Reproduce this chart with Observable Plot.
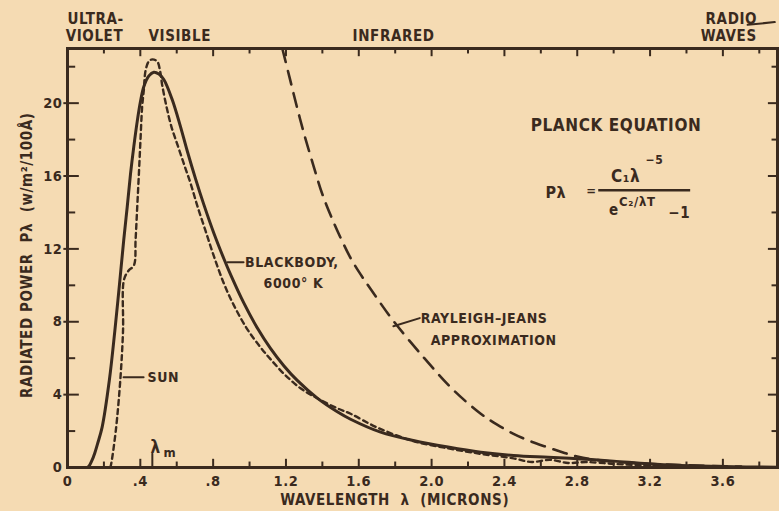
<!DOCTYPE html>
<html><head><meta charset="utf-8">
<script src="https://cdn.jsdelivr.net/npm/d3@7"></script>
<script src="https://cdn.jsdelivr.net/npm/@observablehq/plot@0.6"></script>
<style>
html,body{margin:0;padding:0;background:#f5dbb3;}
#chart svg{display:block;}
#chart svg text{letter-spacing:0.6px;}
</style></head><body><div id="chart"></div>
<script>
// ---- data ----
const blackbodyLambda = [0.11,0.12,0.135,0.15,0.165,0.19,0.23,0.26,0.285,0.309,0.328,0.346,0.364,0.383,0.401,0.419,0.447,0.474,0.502,0.529,0.575,0.621,0.657,0.703,0.749,0.804,0.859,0.896,0.969,1.042,1.115,1.188,1.262,1.372,1.482,1.555,1.72,1.90,2.09,2.27,2.45,2.64,2.82,3.0,3.19,3.37,3.6,3.9];
const blackbodyPower  = [0,0.1,0.4,0.8,1.3,2.2,4.8,7.5,10.0,12.5,14.3,16.1,17.6,19.0,20.1,20.9,21.5,21.7,21.6,21.3,20.2,18.7,17.4,15.86,14.43,12.86,11.46,10.59,9.02,7.67,6.54,5.59,4.78,3.81,3.06,2.65,1.94,1.48,1.12,0.84,0.66,0.56,0.47,0.35,0.2,0.11,0.05,0.02];

const sunLambda = [0.235,0.24,0.265,0.29,0.305,0.31,0.335,0.365,0.374,0.383,0.392,0.401,0.41,0.419,0.429,0.447,0.465,0.492,0.508,0.52,0.544,0.571,0.608,0.645,0.676,0.712,0.758,0.804,0.859,0.914,0.987,1.06,1.115,1.188,1.28,1.372,1.482,1.555,1.70,1.90,2.09,2.27,2.45,2.55,2.65,2.75,2.85,3.0,3.15,3.3];
const sunPower  = [0,0.2,2.0,4.8,7.5,10.3,10.8,11.1,12.5,14.3,16.1,18.0,19.8,20.7,21.8,22.3,22.4,22.3,21.8,21.0,19.8,18.7,17.6,16.5,15.6,14.4,13.0,11.6,10.1,8.9,7.6,6.6,5.95,5.15,4.35,3.8,3.25,2.95,2.2,1.45,1.05,0.75,0.5,0.3,0.42,0.25,0.3,0.2,0.12,0.06];

const rayleighLambda = [1.18,1.22,1.26,1.30,1.35,1.40,1.46,1.51,1.555,1.61,1.665,1.786,1.96,2.115,2.27,2.36,2.45,2.54,2.64,2.73,2.80,2.90,3.10,3.40,3.70];
const rayleighPower  = [23.0,21.4,19.8,18.3,16.6,15.0,13.5,12.4,11.5,10.6,9.8,8.1,6.0,4.3,2.95,2.35,1.85,1.45,1.1,0.8,0.6,0.42,0.25,0.12,0.05];

const xTickValues = [0,0.4,0.8,1.2,1.6,2.0,2.4,2.8,3.2,3.6];
const xTickLabels = ["0",".4",".8","1.2","1.6","2.0","2.4","2.8","3.2","3.6"];
const xMinorTicks = [0.2,0.6,1.0,1.4,1.8,2.2,2.6,3.0,3.4,3.8];
const yTickValues = [0,4,8,12,16,20];
const yTickLabels = ["0","4","8","12","16","20"];
const yMinorTicks = [2,6,10,14,18,22];

const regionNames = ["ULTRA-","VIOLET","VISIBLE","INFRARED","RADIO","WAVES"];
const xTitle = "WAVELENGTH  λ  (MICRONS)";
const yTitle = "RADIATED POWER  Pλ  (w/m²/100Å)";

// ---- layout / style ----
const ink = "#3a2a1e";
const font = "'DejaVu Sans Condensed','DejaVu Sans',sans-serif";
const zip = (xs, ys) => xs.map((x, i) => ({x, y: ys[i]}));
const blackbody = zip(blackbodyLambda, blackbodyPower);
const sun = zip(sunLambda, sunPower);
const rayleigh = zip(rayleighLambda, rayleighPower);

const regionPos = [
  {x: 0.0, y: 24.62}, {x: -0.01, y: 23.66}, {x: 0.445, y: 23.66},
  {x: 1.566, y: 23.66}, {x: 3.505, y: 24.62}, {x: 3.478, y: 23.66}
];
const regions = regionNames.map((t, i) => ({text: t, ...regionPos[i]}));

const labels = [
  {text: "PLANCK EQUATION", x: 2.544, y: 18.77, size: 17},
  {text: "BLACKBODY,", x: 0.975, y: 11.25, size: 14},
  {text: "6000° K", x: 1.077, y: 10.1, size: 14},
  {text: "RAYLEIGH–JEANS", x: 1.94, y: 8.18, size: 14},
  {text: "APPROXIMATION", x: 1.995, y: 6.97, size: 14},
  {text: "SUN", x: 0.44, y: 4.94, size: 14}
];
const eqn = [
  {text: "Pλ", x: 2.625, y: 15.05, size: 16, style: "italic"},
  {text: "=", x: 2.85, y: 15.2, size: 13, style: "normal"},
  {text: "C₁λ", x: 2.985, y: 15.95, size: 17, style: "italic"},
  {text: "−5", x: 3.175, y: 16.85, size: 12, style: "normal"},
  {text: "e", x: 2.975, y: 14.1, size: 15, style: "italic"},
  {text: "C₂/λT", x: 3.03, y: 14.6, size: 13, style: "italic"},
  {text: "−1", x: 3.30, y: 13.95, size: 15, style: "normal"}
];
const arrows = [
  {x1: 0.967, y1: 11.26, x2: 0.879, y2: 11.26, bend: 0},
  {x1: 0.418, y1: 4.95, x2: 0.308, y2: 4.95, bend: 0},
  {x1: 1.935, y1: 8.2, x2: 1.79, y2: 7.75, bend: -30},
  {x1: 0.466, y1: 0.0, x2: 0.466, y2: 0.75, bend: 0},
  {x1: 3.736, y1: 24.3, x2: 3.885, y2: 24.45, bend: 0}
];

const plot = Plot.plot({
  width: 779, height: 511,
  marginLeft: 67, marginRight: 2, marginTop: 48, marginBottom: 44,
  style: {background: "transparent", fontFamily: font, fontWeight: "bold", color: ink, fontSize: "14px", overflow: "visible"},
  x: {domain: [0, 3.9]},
  y: {domain: [0, 23]},
  marks: [
    // ticks (inward, all four sides)
    Plot.ruleX(xTickValues.slice(1), {x: d => d, y1: 0, y2: 0.45, stroke: ink, strokeWidth: 2}),
    Plot.ruleX(xMinorTicks, {x: d => d, y1: 0, y2: 0.3, stroke: ink, strokeWidth: 2}),
    Plot.ruleX(xTickValues.slice(1), {x: d => d, y1: 23, y2: 22.55, stroke: ink, strokeWidth: 2}),
    Plot.ruleX(xMinorTicks, {x: d => d, y1: 23, y2: 22.7, stroke: ink, strokeWidth: 2}),
    Plot.ruleY(yTickValues.slice(1), {y: d => d, x1: -0.02, x2: 0.065, stroke: ink, strokeWidth: 2}),
    Plot.ruleY(yMinorTicks, {y: d => d, x1: 0, x2: 0.045, stroke: ink, strokeWidth: 2}),
    Plot.ruleY(yTickValues.slice(1), {y: d => d, x1: 3.9, x2: 3.85, stroke: ink, strokeWidth: 2}),
    Plot.ruleY(yMinorTicks, {y: d => d, x1: 3.9, x2: 3.87, stroke: ink, strokeWidth: 2}),
    Plot.axisX({ticks: xTickValues, tickFormat: d => xTickLabels[xTickValues.indexOf(d)], tickSize: 0, tickPadding: 8, label: null, fontSize: 14.5, fill: ink}),
    Plot.axisY({ticks: yTickValues, tickFormat: d => yTickLabels[yTickValues.indexOf(d)], tickSize: 0, tickPadding: 5, label: null, fontSize: 14.5, fill: ink}),
    // curves
    Plot.line(rayleigh, {x: "x", y: "y", stroke: ink, strokeWidth: 2.6, strokeDasharray: "14,9", curve: "catmull-rom"}),
    Plot.line(sun, {x: "x", y: "y", stroke: ink, strokeWidth: 2.4, strokeDasharray: "5,4", curve: "catmull-rom"}),
    Plot.line(blackbody, {x: "x", y: "y", stroke: ink, strokeWidth: 3, curve: "catmull-rom"}),
    Plot.frame({stroke: ink, strokeWidth: 3}),
    // titles
    Plot.text([xTitle], {x: 1.797, frameAnchor: "bottom", lineAnchor: "middle", dy: 33, fontSize: 15, fill: ink}),
    Plot.text([yTitle], {y: 11.65, frameAnchor: "left", textAnchor: "middle", lineAnchor: "middle", dx: -40, rotate: -90, fontSize: 15, fill: ink}),
    Plot.text(regions, {x: "x", y: "y", text: "text", textAnchor: "start", fontSize: 15, fill: ink}),
    // annotations
    Plot.text(labels, {x: "x", y: "y", text: "text", textAnchor: "start", fontSize: d => d.size, fill: ink}),
    Plot.text(eqn, {x: "x", y: "y", text: "text", textAnchor: "start", fontSize: d => d.size, fontStyle: d => d.style, fill: ink}),
    Plot.ruleY([15.22], {y: d => d, x1: 2.918, x2: 3.423, stroke: ink, strokeWidth: 2.5}),
    Plot.text(["λ"], {x: 0.456, y: 1.1, textAnchor: "start", fontSize: 17, fill: ink}),
    Plot.text(["m"], {x: 0.527, y: 0.8, textAnchor: "start", fontSize: 13, fill: ink}),
    Plot.arrow(arrows, {x1: "x1", y1: "y1", x2: "x2", y2: "y2", bend: d => d.bend, stroke: ink, strokeWidth: 2, headLength: 7})
  ]
});
document.getElementById("chart").appendChild(plot);
</script></body></html>
